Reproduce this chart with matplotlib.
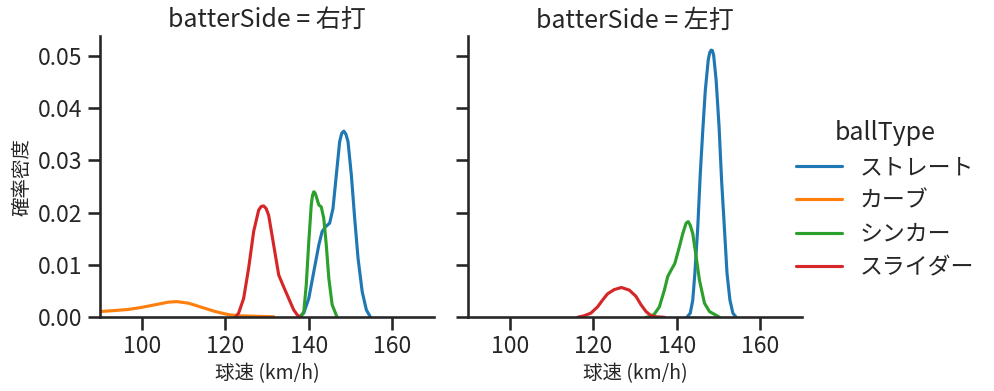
import matplotlib
matplotlib.use("Agg")
import matplotlib.pyplot as plt
import seaborn as sns

sns.set_theme(context="talk", style="ticks")
plt.rcParams["font.family"] = ["Noto Sans CJK JP", "DejaVu Sans"]

# ---- data (density curves, km/h vs density) ----
panels = ["右打", "左打"]
ball_types = ["ストレート", "カーブ", "シンカー", "スライダー"]
colors = ["#1f77b4", "#ff7f0e", "#2ca02c", "#d62728"]

# 右打 (right-handed batters)
r_straight_x = [137.6, 138.8, 140.0, 141.2, 142.4, 143.2, 144.0, 145.0, 145.8, 146.6, 147.4, 147.9, 148.4, 148.9, 149.4, 150.2, 151.0, 151.8, 152.8, 153.8, 154.8]
r_straight_y = [0.0, 0.0008, 0.0036, 0.0087, 0.0138, 0.0164, 0.0173, 0.0180, 0.0208, 0.0272, 0.0336, 0.0352, 0.0356, 0.0350, 0.0336, 0.0272, 0.0189, 0.0113, 0.0049, 0.0014, 0.0]
r_curve_x = [90.0, 93.6, 96.8, 100.0, 103.2, 106.4, 108.4, 111.2, 114.4, 117.6, 120.8, 123.2, 127.0, 131.6]
r_curve_y = [0.0011, 0.0013, 0.0015, 0.0019, 0.0024, 0.0029, 0.0030, 0.0027, 0.0019, 0.0011, 0.0005, 0.0003, 0.0002, 0.0001]
r_sinker_x = [138.0, 138.8, 139.4, 140.0, 140.6, 140.9, 141.2, 141.5, 141.8, 142.4, 143.0, 143.6, 144.2, 144.8, 145.6, 146.8]
r_sinker_y = [0.0, 0.0010, 0.0062, 0.0144, 0.0215, 0.0233, 0.0240, 0.0238, 0.0231, 0.0215, 0.0211, 0.0189, 0.0138, 0.0075, 0.0024, 0.0]
r_slider_x = [122.4, 123.2, 124.4, 125.6, 126.8, 128.0, 128.6, 129.2, 129.8, 130.4, 131.6, 132.8, 134.0, 135.2, 136.4, 137.3, 138.0]
r_slider_y = [0.0, 0.0008, 0.0036, 0.0094, 0.0164, 0.0205, 0.0212, 0.0213, 0.0208, 0.0195, 0.0138, 0.0081, 0.0058, 0.0036, 0.0014, 0.0004, 0.0]

# 左打 (left-handed batters)
l_straight_x = [142.4, 143.2, 143.8, 144.3, 145.0, 145.6, 146.2, 146.8, 147.5, 147.85, 148.2, 148.5, 148.8, 149.4, 150.1, 150.7, 151.4, 152.0, 152.7, 153.4, 154.2]
l_straight_y = [0.0, 0.0008, 0.0033, 0.0084, 0.0173, 0.0275, 0.0358, 0.0434, 0.0492, 0.0506, 0.0511, 0.0510, 0.0501, 0.0453, 0.0364, 0.0262, 0.0167, 0.0084, 0.0033, 0.0008, 0.0]
l_sinker_x = [132.6, 133.4, 134.6, 135.8, 137.0, 137.8, 138.6, 139.5, 140.6, 141.4, 142.2, 142.7, 143.2, 143.8, 144.6, 145.4, 146.6, 147.8, 149.8, 150.2]
l_sinker_y = [0.0, 0.0001, 0.0006, 0.0020, 0.0052, 0.0078, 0.0090, 0.0103, 0.0135, 0.0160, 0.0180, 0.0183, 0.0176, 0.0160, 0.0116, 0.0071, 0.0027, 0.0011, 0.0002, 0.0]
l_slider_x = [116.2, 117.8, 119.4, 121.0, 122.2, 123.4, 125.0, 126.7, 128.6, 130.2, 131.4, 132.6, 133.8, 135.0, 137.0]
l_slider_y = [0.0, 0.0003, 0.0008, 0.0020, 0.0033, 0.0045, 0.0053, 0.0057, 0.0052, 0.0040, 0.0024, 0.0011, 0.0003, 0.0001, 0.0]

series = {
    "右打": {
        "ストレート": (r_straight_x, r_straight_y),
        "カーブ": (r_curve_x, r_curve_y),
        "シンカー": (r_sinker_x, r_sinker_y),
        "スライダー": (r_slider_x, r_slider_y),
    },
    "左打": {
        "ストレート": (l_straight_x, l_straight_y),
        "シンカー": (l_sinker_x, l_sinker_y),
        "スライダー": (l_slider_x, l_slider_y),
    },
}

x_ticks = [100, 120, 140, 160]
y_ticks = [0.00, 0.01, 0.02, 0.03, 0.04, 0.05]

fig = plt.figure(figsize=(9.95, 3.91), dpi=100)
ax_l = fig.add_axes([0.1005, 0.1885, 0.3357, 0.7195])
ax_r = fig.add_axes([0.4705, 0.1885, 0.3357, 0.7195], sharey=ax_l)

handles = {}
for ax, side in zip([ax_l, ax_r], panels):
    for bt, col in zip(ball_types, colors):
        if bt in series[side]:
            xs, ys = series[side][bt]
            (ln,) = ax.plot(xs, ys, color=col, lw=2.25, solid_joinstyle="round")
            handles[bt] = ln
    ax.set_xlim(90, 170)
    ax.set_ylim(0, 0.0538)
    ax.set_xticks(x_ticks)
    ax.set_yticks(y_ticks)
    ax.set_title(f"batterSide = {side}", fontsize=18)
    ax.set_xlabel("球速 (km/h)", fontsize=14)
    sns.despine(ax=ax)

ax_l.set_yticklabels([f"{v:.2f}" for v in y_ticks])
ax_l.set_ylabel("確率密度", fontsize=14)
plt.setp(ax_r.get_yticklabels(), visible=False)

leg = fig.legend([handles[b] for b in ball_types], ball_types, title="ballType",
                 loc="center left", bbox_to_anchor=(0.779, 0.49), frameon=False,
                 fontsize=16.5, title_fontsize=18, labelspacing=0.45)

fig.savefig("out.png", dpi=100)
